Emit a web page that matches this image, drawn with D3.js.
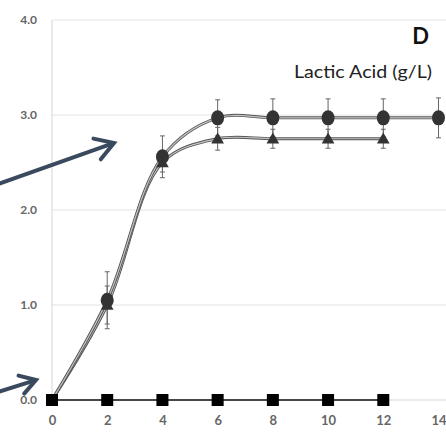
<!DOCTYPE html>
<html><head><meta charset="utf-8">
<script src="https://cdn.jsdelivr.net/npm/d3@7/dist/d3.min.js"></script>
<style>body{margin:0;background:#fff}svg{display:block}</style>
</head><body>
<script>
const days = [0, 2, 4, 6, 8, 10, 12, 14];
const circleVals = [0, 1.05, 2.56, 2.97, 2.97, 2.97, 2.97, 2.97];
const circleErr  = [0, 0.30, 0.22, 0.19, 0.2, 0.2, 0.2, 0.21];
const triDays = [0, 2, 4, 6, 8, 10, 12];
const triVals = [0, 1.0, 2.5, 2.75, 2.75, 2.75, 2.75];
const triErr  = [0, 0.2, 0.1, 0.12, 0.1, 0.1, 0.1];
const sqDays = [0, 2, 4, 6, 8, 10, 12];
const sqVals = [0, 0, 0, 0, 0, 0, 0];
const yTicks = [0, 1, 2, 3, 4];
const xTicks = [0, 2, 4, 6, 8, 10, 12, 14];

const W = 446, H = 434;
const svg = d3.select("body").append("svg").attr("width", W).attr("height", H);
const x = d3.scaleLinear().domain([0, 14]).range([52, 438.5]);
const y = d3.scaleLinear().domain([0, 4]).range([400, 20]);
const FONT = "Lato, 'Open Sans', sans-serif";

// gridlines
svg.append("g").selectAll("line").data(yTicks.filter(d => d > 0)).join("line")
  .attr("x1", 52).attr("x2", W).attr("y1", d => y(d)).attr("y2", d => y(d))
  .attr("stroke", "#e4e4e4").attr("stroke-width", 1.2);
svg.append("line").attr("x1", 52).attr("x2", 52).attr("y1", 20).attr("y2", 400)
  .attr("stroke", "#dcdcdc").attr("stroke-width", 1.2);
svg.append("line").attr("x1", 52).attr("x2", W).attr("y1", 400).attr("y2", 400)
  .attr("stroke", "#d8d8d8").attr("stroke-width", 1.2);

// tick labels
const yAxis = d3.axisLeft(y).tickValues(yTicks).tickFormat(d3.format(".1f")).tickSize(0).tickPadding(15);
const gy = svg.append("g").attr("transform", "translate(52,0)").call(yAxis);
gy.select(".domain").remove();
gy.selectAll("text").attr("font-family", FONT).attr("font-size", 12)
  .attr("font-weight", "bold").attr("fill", "#666");
const xAxis = d3.axisBottom(x).tickValues(xTicks).tickSize(0).tickPadding(16);
const gx = svg.append("g").attr("transform", "translate(0,400)").call(xAxis);
gx.select(".domain").remove();
gx.selectAll("text").attr("font-family", FONT).attr("font-size", 13)
  .attr("font-weight", "bold").attr("fill", "#666");

// lines
const lineGen = d3.line().curve(d3.curveCatmullRom.alpha(0.5));
function drawDouble(xs, vs) {
  const pts = xs.map((d, i) => [x(d), y(vs[i])]);
  svg.append("path").attr("d", lineGen(pts)).attr("fill", "none").attr("stroke", "#555").attr("stroke-width", 3);
  svg.append("path").attr("d", lineGen(pts)).attr("fill", "none").attr("stroke", "#c4c4c4").attr("stroke-width", 1.2);
}
drawDouble(triDays, triVals);
drawDouble(days, circleVals);

svg.append("path").attr("d", d3.line()(sqDays.map((d, i) => [x(d), y(sqVals[i])])))
  .attr("fill", "none").attr("stroke", "#111").attr("stroke-width", 1.6);

// error bars
function errBars(xs, vs, es) {
  const g = svg.append("g").attr("stroke", "#666").attr("stroke-width", 1);
  xs.forEach((d, i) => {
    if (!es[i]) return;
    const cx = x(d);
    g.append("line").attr("x1", cx).attr("x2", cx).attr("y1", y(vs[i] + es[i])).attr("y2", y(vs[i] - es[i]));
    g.append("line").attr("x1", cx - 2.5).attr("x2", cx + 2.5).attr("y1", y(vs[i] + es[i])).attr("y2", y(vs[i] + es[i]));
    g.append("line").attr("x1", cx - 2.5).attr("x2", cx + 2.5).attr("y1", y(vs[i] - es[i])).attr("y2", y(vs[i] - es[i]));
  });
}
errBars(triDays, triVals, triErr);
errBars(days, circleVals, circleErr);

// markers
svg.append("g").selectAll("path").data(triDays.slice(1)).join("path")
  .attr("d", d3.symbol(d3.symbolTriangle, 70))
  .attr("transform", d => `translate(${x(d)},${y(triVals[triDays.indexOf(d)]) + 1})`)
  .attr("fill", "#333");
svg.append("g").selectAll("ellipse").data(days.slice(1)).join("ellipse")
  .attr("cx", d => x(d)).attr("cy", d => y(circleVals[days.indexOf(d)]))
  .attr("rx", 6.5).attr("ry", 7.5).attr("fill", "#333");
svg.append("g").selectAll("rect").data(sqDays).join("rect")
  .attr("x", d => x(d) - 6).attr("y", (d, i) => y(sqVals[i]) - 6)
  .attr("width", 12).attr("height", 12).attr("fill", "#000");

// labels
svg.append("text").attr("x", 420.5).attr("y", 43.5).attr("text-anchor", "middle")
  .attr("font-family", FONT).attr("font-weight", "bold").attr("font-size", 22)
  .attr("fill", "#111").text("D");
svg.append("text").attr("x", 294).attr("y", 78).attr("textLength", 138).attr("lengthAdjust", "spacingAndGlyphs")
  .attr("font-family", FONT).attr("font-size", 18)
  .attr("fill", "#222").text("Lactic Acid (g/L)");

// arrows
const arrowColor = "#3a4a5e";
function arrow(x1, y1, x2, y2, L) {
  const ang = Math.atan2(y2 - y1, x2 - x1), a = 0.55;
  svg.append("line").attr("x1", x1).attr("y1", y1).attr("x2", x2 - 2 * Math.cos(ang)).attr("y2", y2 - 2 * Math.sin(ang))
    .attr("stroke", arrowColor).attr("stroke-width", 4);
  const p1 = [x2 - L * Math.cos(ang - a), y2 - L * Math.sin(ang - a)];
  const p2 = [x2 - L * Math.cos(ang + a), y2 - L * Math.sin(ang + a)];
  svg.append("path").attr("d", `M${p1}L${x2},${y2}L${p2}`).attr("fill", "none")
    .attr("stroke", arrowColor).attr("stroke-width", 4).attr("stroke-linejoin", "miter").attr("stroke-linecap", "round");
}
arrow(-2, 184, 114, 143, 21);
arrow(-2, 392, 36, 380, 18);
</script>
</body></html>
